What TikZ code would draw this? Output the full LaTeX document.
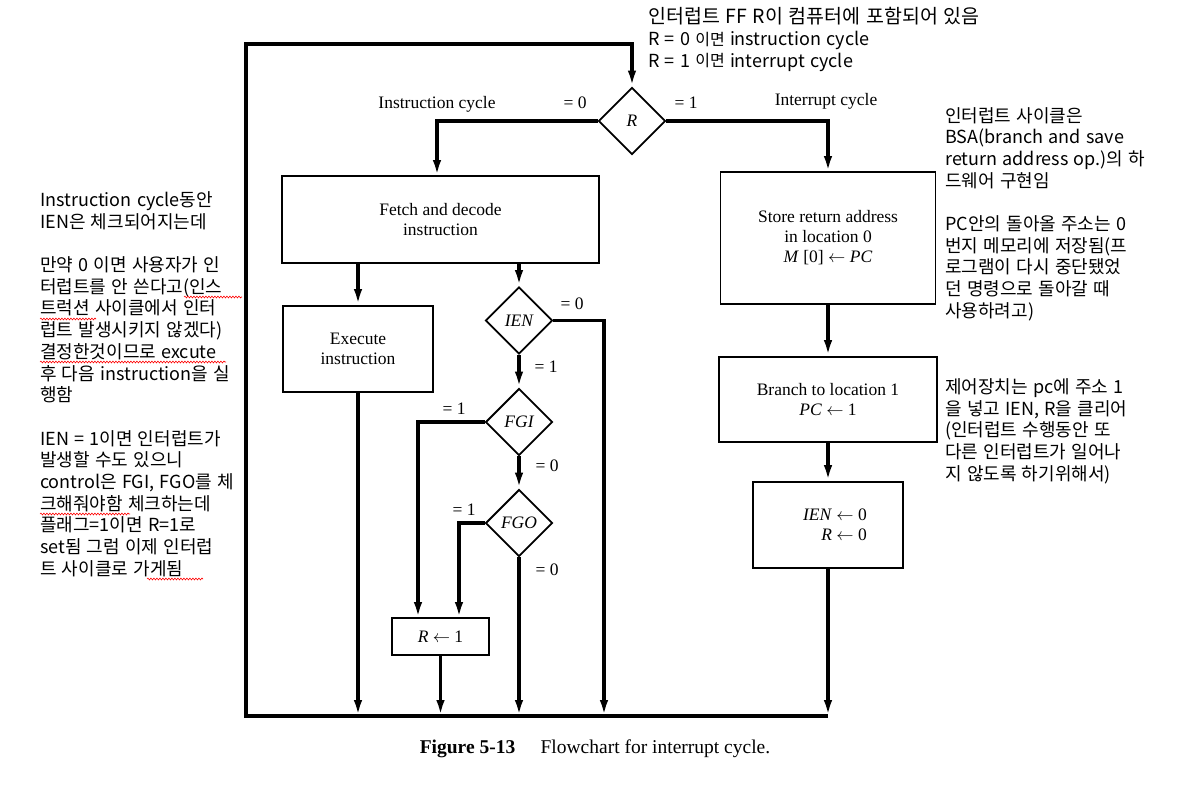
\documentclass[tikz,border=0pt]{standalone}
\usepackage{fontspec}
\setmainfont{Liberation Serif}
\newfontfamily\kr[WordSpace=1.3]{Noto Sans CJK KR}
\usetikzlibrary{shapes.geometric,arrows.meta,decorations.pathmorphing}
\newcommand{\smallimyeon}{\raisebox{1pt}{\fontsize{16}{16}\selectfont 이면}}
\begin{document}
\begin{tikzpicture}[x=1pt,y=-1pt,
  box/.style={draw,line width=1.9pt,inner sep=0pt,align=center,font=\fontsize{17.5}{20}\selectfont},
  dia/.style={diamond,draw,line width=1.9pt,inner sep=0pt,minimum width=67pt,minimum height=67pt,font=\fontsize{17.5}{20}\selectfont\itshape},
  conn/.style={line width=3.4pt,line join=miter},
  arr/.style={conn,-{Latex[length=16pt,width=8.5pt]}},
  lbl/.style={font=\fontsize{17.5}{20}\selectfont,inner sep=0pt},
  note/.style={font=\kr\fontsize{18}{21.7}\selectfont,anchor=base west,inner sep=0pt},
  topnote/.style={font=\kr\fontsize{19.5}{21.7}\selectfont,anchor=base west,inner sep=0pt},
  topnoteb/.style={font=\kr\fontsize{18}{21.7}\selectfont,anchor=base west,inner sep=0pt},
  squig/.style={draw=red,line width=0.6pt,decorate,decoration={snake,amplitude=0.9pt,segment length=3pt}}
]
\useasboundingbox[fill=white] (0,0) rectangle (1201,792);

% nodes
\node[dia] (R) at (632,121) {R};
\node[box,minimum width=317pt,minimum height=87pt] (fetch) at (440.5,219.5) {Fetch and decode\\instruction};
\node[box,minimum width=150pt,minimum height=86pt] (exec) at (358,349) {Execute\\instruction};
\node[dia] (IEN) at (519,320.5) {IEN};
\node[dia] (FGI) at (519,422) {FGI};
\node[dia] (FGO) at (519,523) {FGO};
\node[box,minimum width=97pt,minimum height=37pt] (R1) at (440.5,636.5) {\textit{R} $\leftarrow$ 1};
\node[box,minimum width=215pt,minimum height=132pt] (store) at (828,238) {Store return address\\in location 0\\\textit{M} [0] $\leftarrow$ \textit{PC}};
\node[box,minimum width=218pt,minimum height=85pt] (branch) at (828,399.5) {Branch to location 1\\\textit{PC} $\leftarrow$ 1};
\node[box,minimum width=150pt,minimum height=86pt,align=right] (clear) at (828,525) {\hspace*{14pt}\textit{IEN} $\leftarrow$ 0\\\textit{R} $\leftarrow$ 0};

% coordinates
\coordinate (tl) at (246,44);
\coordinate (bl) at (246,716);
\coordinate (b1) at (358,716);
\coordinate (b2) at (440.5,716);
\coordinate (b3) at (519,716);
\coordinate (b4) at (604,716);
\coordinate (b5) at (828,716);
\coordinate (fin) at (437,176);
\coordinate (sin) at (828,172);
\coordinate (r1a) at (418,618);
\coordinate (r1b) at (459,618);

% connectors
\draw[arr] (b5) -- (bl) -- (tl) -| (R.north);
\draw[arr] (R.west) -| (fin);
\draw[arr] (R.east) -| (sin);
\draw[arr] (exec.north |- fetch.south) -- (exec.north);
\draw[arr] (IEN.north |- fetch.south) -- (IEN.north);
\draw[arr] (IEN.east) -| (b4);
\draw[arr] (IEN.south) -- (FGI.north);
\draw[arr] (FGI.west) -| (r1a);
\draw[arr] (FGI.south) -- (FGO.north);
\draw[arr] (FGO.west) -| (r1b);
\draw[arr] (FGO.south) -- (b3);
\draw[arr] (R1.south) -- (b2);
\draw[arr] (exec.south) -- (b1);
\draw[arr] (store.south) -- (branch.north);
\draw[arr] (branch.south) -- (clear.north);
\draw[arr] (clear.south) -- (b5);

% labels
\node[lbl] (lr0) at (575,103) {= 0};
\node[lbl] (lr1) at (686,103) {= 1};
\node[lbl] (lic) at (437,104) {Instruction cycle};
\node[lbl] (lit) at (826,101) {Interrupt cycle};
\node[lbl] (li0) at (572,304) {= 0};
\node[lbl] (li1) at (546,367) {= 1};
\node[lbl] (lg1) at (454,409) {= 1};
\node[lbl] (lg0) at (547,466) {= 0};
\node[lbl] (lo1) at (464,510) {= 1};
\node[lbl] (lo0) at (547,570) {= 0};

% caption
\node[font=\fontsize{19.5}{22}\selectfont,inner sep=0pt] (cap) at (595,749) {\textbf{Figure 5-13}\hspace{1.3em}Flowchart for interrupt cycle.};

% annotations (baseline = line centre + 6.5)
\node[topnote] (top1) at (648,24) {인터럽트 FF R이 컴퓨터에 포함되어 있음};
\node[topnoteb] (top2) at (648,46) {R = 0 \smallimyeon{} instruction cycle};
\node[topnoteb] (top3) at (648,67) {R = 1 \smallimyeon{} interrupt cycle};

\foreach \y/\t [count=\i] in {
  206.5/{Instruction cycle동안},
  228.2/{IEN은 체크되어지는데},
  271.5/{만약 0 이면 사용자가 인},
  293.2/{터럽트를 안 쓴다고(인스},
  314.9/{트럭션 사이클에서 인터},
  336.6/{럽트 발생시키지 않겠다)},
  358.3/{결정한것이므로 excute},
  380/{후 다음 instruction을 실},
  401.7/{행함},
  445/{IEN = 1이면 인터럽트가},
  466.7/{발생할 수도 있으니},
  488.4/{control은 FGI, FGO를 체},
  510.1/{크해줘야함 체크하는데},
  531.8/{플래그=1이면 R=1로},
  553.5/{set됨 그럼 이제 인터럽},
  575.2/{트 사이클로 가게됨}}
  \node[note] (left\i) at (40,\y) {\t};

\foreach \y/\t [count=\i] in {
  122/{인터럽트 사이클은},
  143.7/{BSA(branch and save},
  165.4/{return address op.)의 하},
  187.1/{드웨어 구현임},
  230.5/{PC안의 돌아올 주소는 0},
  252.2/{번지 메모리에 저장됨(프},
  273.9/{로그램이 다시 중단됐었},
  295.6/{던 명령으로 돌아갈 때},
  317.3/{사용하려고)},
  393.5/{제어장치는 pc에 주소 1},
  415.2/{을 넣고 IEN, R을 클리어},
  436.9/{(인터럽트 수행동안 또},
  458.6/{다른 인터럽트가 일어나},
  480.3/{지 않도록 하기위해서)}}
  \node[note] (right\i) at (945,\y) {\t};

% spell-check squiggles
\draw[squig] (184,297) -- (242,297);
\draw[squig] (40,319) -- (96,319);
\draw[squig] (40,362) -- (226,362);
\draw[squig] (40,514) -- (130,514);
\draw[squig] (147,579) -- (203,579);
\end{tikzpicture}
\end{document}
